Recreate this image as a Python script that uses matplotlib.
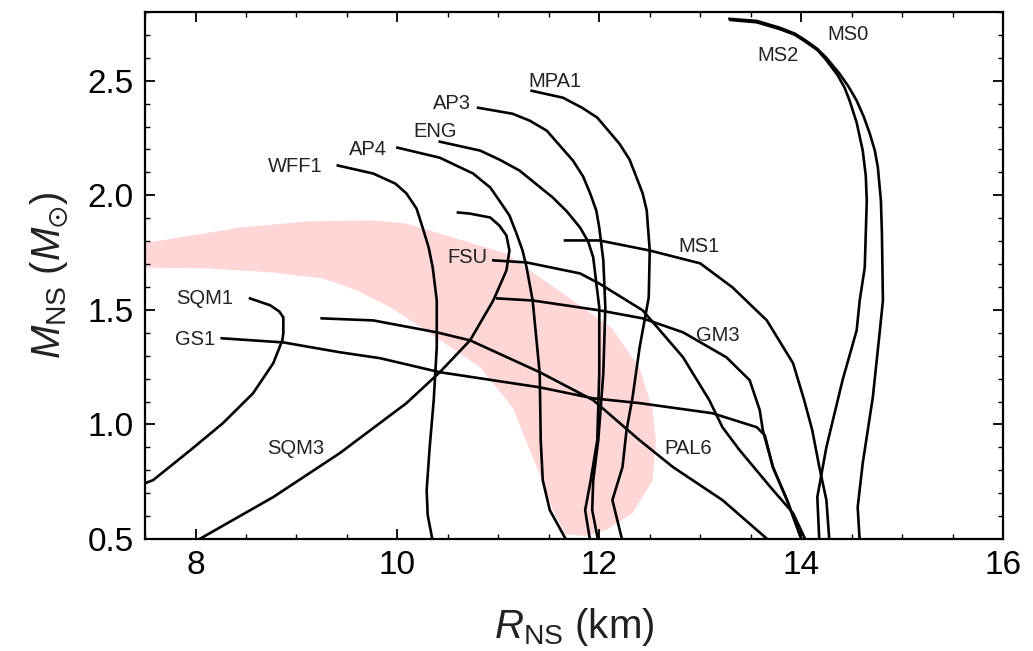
import matplotlib
matplotlib.use("Agg")
import matplotlib.pyplot as plt
from matplotlib.ticker import MultipleLocator

plt.rcParams['font.family'] = ['Liberation Sans', 'DejaVu Sans']
plt.rcParams['mathtext.fontset'] = 'custom'
plt.rcParams['mathtext.rm'] = 'Liberation Sans'
plt.rcParams['mathtext.it'] = 'Liberation Sans:italic'
plt.rcParams['mathtext.fallback'] = 'stixsans'

# mass-radius curves (R in km, M in solar masses)
sqm1_r = [8.54, 8.74, 8.83, 8.87, 8.87, 8.86, 8.77, 8.57, 8.27, 7.95, 7.58, 7.45]
sqm1_m = [1.550, 1.520, 1.493, 1.467, 1.398, 1.367, 1.267, 1.136, 1.005, 0.888, 0.757, 0.735]

sqm3_r = [8.00, 8.77, 9.43, 10.09, 10.42, 10.72, 10.95, 11.08, 11.11, 11.08, 11.01, 10.92, 10.72, 10.60]
sqm3_m = [0.49, 0.683, 0.875, 1.093, 1.228, 1.367, 1.541, 1.672, 1.759, 1.825, 1.868, 1.903, 1.920, 1.925]

gs1_r = [8.26, 8.87, 9.43, 9.83, 10.42, 11.41, 11.94, 12.40, 13.12, 13.56, 13.64, 13.72, 13.86, 14.01]
gs1_m = [1.376, 1.358, 1.315, 1.289, 1.228, 1.162, 1.114, 1.093, 1.049, 0.988, 0.953, 0.814, 0.670, 0.49]

pal6_r = [9.25, 9.76, 10.39, 10.72, 11.41, 11.94, 12.40, 12.73, 13.22, 13.69]
pal6_m = [1.463, 1.454, 1.402, 1.367, 1.228, 1.106, 0.931, 0.814, 0.670, 0.49]

wff1_r = [9.41, 9.76, 9.98, 10.09, 10.19, 10.25, 10.31, 10.35, 10.39, 10.39, 10.36, 10.32, 10.29, 10.30, 10.35]
wff1_m = [2.130, 2.095, 2.051, 2.008, 1.942, 1.859, 1.772, 1.685, 1.541, 1.337, 1.106, 0.901, 0.714, 0.605, 0.49]

ap4_r = [10.00, 10.42, 10.75, 10.92, 11.01, 11.11, 11.18, 11.24, 11.28, 11.34, 11.41, 11.42, 11.44, 11.51, 11.68]
ap4_m = [2.208, 2.164, 2.095, 2.034, 1.977, 1.912, 1.833, 1.759, 1.685, 1.541, 1.223, 0.931, 0.757, 0.626, 0.49]

eng_r = [10.42, 10.82, 11.01, 11.21, 11.54, 11.68, 11.81, 11.89, 11.94, 12.00, 12.00, 11.98, 11.91, 11.86, 11.91]
eng_m = [2.234, 2.195, 2.156, 2.108, 1.990, 1.929, 1.859, 1.798, 1.729, 1.511, 1.223, 0.931, 0.744, 0.626, 0.49]

ap3_r = [10.80, 11.14, 11.31, 11.48, 11.74, 11.84, 11.91, 11.97, 12.00, 12.04, 12.06, 12.04, 11.99, 11.94, 11.93, 11.99]
ap3_m = [2.382, 2.356, 2.326, 2.282, 2.151, 2.082, 2.008, 1.934, 1.859, 1.716, 1.511, 1.223, 0.931, 0.757, 0.626, 0.49]

mpa1_r = [11.33, 11.64, 11.83, 11.98, 12.20, 12.30, 12.37, 12.43, 12.47, 12.50, 12.49, 12.40, 12.33, 12.27, 12.23, 12.13, 12.23]
mpa1_m = [2.456, 2.426, 2.382, 2.339, 2.225, 2.156, 2.077, 2.008, 1.934, 1.759, 1.554, 1.337, 1.119, 0.975, 0.814, 0.670, 0.49]

fsu_r = [10.95, 11.28, 11.81, 12.00, 12.43, 12.60, 12.83, 13.09, 13.22, 13.39, 13.72, 13.92, 14.05]
fsu_m = [1.716, 1.707, 1.659, 1.615, 1.498, 1.411, 1.293, 1.106, 0.988, 0.888, 0.714, 0.613, 0.49]

gm3_r = [10.99, 11.34, 12.00, 12.43, 12.83, 13.26, 13.49, 13.59, 13.62, 13.72, 13.86, 13.96, 14.01]
gm3_m = [1.550, 1.541, 1.498, 1.463, 1.402, 1.293, 1.193, 1.062, 0.975, 0.814, 0.670, 0.552, 0.49]

ms1_r = [11.66, 12.00, 12.50, 13.00, 13.32, 13.66, 13.92, 14.03, 14.11, 14.18, 14.25, 14.28]
ms1_m = [1.803, 1.803, 1.759, 1.703, 1.598, 1.454, 1.267, 1.106, 0.975, 0.814, 0.670, 0.49]

ms0_r = [13.29, 13.56, 13.79, 13.94, 14.05, 14.16, 14.25, 14.38, 14.47, 14.55, 14.62, 14.68, 14.73,
         14.76, 14.79, 14.80, 14.81, 14.78, 14.71, 14.61, 14.56, 14.58]
ms0_m = [2.770, 2.761, 2.731, 2.705, 2.674, 2.639, 2.600, 2.531, 2.474, 2.413, 2.343, 2.269, 2.195,
         2.121, 1.977, 1.833, 1.541, 1.411, 1.119, 0.831, 0.639, 0.49]

ms2_r = [13.30, 13.56, 13.79, 13.94, 14.05, 14.16, 14.24, 14.36, 14.43, 14.48, 14.55, 14.61, 14.64,
         14.65, 14.63, 14.58, 14.55, 14.41, 14.25, 14.16, 14.18]
ms2_m = [2.765, 2.755, 2.725, 2.700, 2.668, 2.634, 2.595, 2.525, 2.470, 2.413, 2.317, 2.195, 2.086,
         1.977, 1.685, 1.541, 1.411, 1.193, 0.901, 0.683, 0.49]

curves = [(sqm1_r, sqm1_m), (sqm3_r, sqm3_m), (gs1_r, gs1_m), (pal6_r, pal6_m),
          (wff1_r, wff1_m), (ap4_r, ap4_m), (eng_r, eng_m), (ap3_r, ap3_m),
          (mpa1_r, mpa1_m), (fsu_r, fsu_m), (gm3_r, gm3_m), (ms1_r, ms1_m),
          (ms0_r, ms0_m), (ms2_r, ms2_m)]

# curve names and where they are written
label_names = ['MS0', 'MS2', 'MPA1', 'AP3', 'ENG', 'AP4', 'WFF1', 'FSU',
               'MS1', 'SQM1', 'GS1', 'GM3', 'PAL6', 'SQM3']
label_r = [14.46, 13.77, 11.56, 10.54, 10.37, 9.71, 8.99, 10.69,
           12.99, 8.09, 8.00, 13.17, 12.88, 8.99]
label_m = [2.700, 2.608, 2.495, 2.402, 2.279, 2.199, 2.126, 1.729,
           1.777, 1.550, 1.372, 1.389, 0.897, 0.897]

# shaded constraint band (outline)
band_r = [7.4, 7.78, 8.44, 9.10, 9.76, 10.09, 10.42, 11.08, 11.41, 11.74, 12.13, 12.40,
          12.53, 12.56, 12.53, 12.33, 12.07, 11.86, 11.66, 11.54, 11.38, 11.14, 10.82,
          10.32, 9.93, 9.60, 9.26, 8.77, 8.11, 7.4]
band_m = [1.785, 1.812, 1.859, 1.886, 1.891, 1.877, 1.833, 1.746, 1.642, 1.541, 1.419, 1.245,
          1.062, 0.931, 0.757, 0.613, 0.539, 0.513, 0.522, 0.626, 0.814, 1.075, 1.249,
          1.398, 1.511, 1.585, 1.637, 1.663, 1.681, 1.685]

fig = plt.figure(figsize=(10.33, 6.51), dpi=100)
ax = fig.add_axes([0.1404, 0.172, 0.8306, 0.8096])

ax.fill(band_r, band_m, color='#ffd6d6', lw=0, zorder=1)

for r, m in curves:
    ax.plot(r, m, color='black', lw=1.9, zorder=2, solid_joinstyle='round')

for name, r, m in zip(label_names, label_r, label_m):
    ax.text(r, m, name, fontsize=14.5, color='#222222', ha='center', va='center', zorder=3)

ax.set_xlim(7.5, 16)
ax.set_ylim(0.5, 2.8)
ax.xaxis.set_major_locator(MultipleLocator(2))
ax.xaxis.set_minor_locator(MultipleLocator(0.5))
ax.yaxis.set_major_locator(MultipleLocator(0.5))
ax.yaxis.set_minor_locator(MultipleLocator(0.1))
ax.tick_params(which='both', direction='in', top=True, right=True, labelsize=24, pad=8)
ax.tick_params(which='major', length=7, width=1.3)
ax.tick_params(which='minor', length=3.5, width=1.0)
for s in ax.spines.values():
    s.set_linewidth(1.6)

ax.set_xlabel(r'$R_{\rm NS}$ (km)', fontsize=29, color='#222222', labelpad=18)
ax.set_ylabel(r'$M_{\rm NS}$ ($M_{\odot}$)', fontsize=29, color='#222222', labelpad=12)

fig.savefig('out.png', dpi=100)
